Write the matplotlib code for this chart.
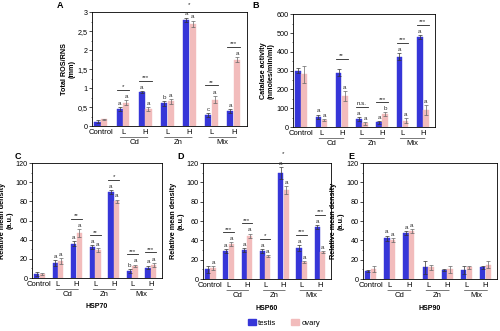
import matplotlib
matplotlib.use("Agg")
import matplotlib.pyplot as plt
from matplotlib.patches import Patch
from matplotlib.ticker import MultipleLocator, FuncFormatter
import numpy as np

plt.rcParams['font.family'] = ['Liberation Sans', 'DejaVu Sans']

groups = ["Control", "L", "H", "L", "H", "L", "H"]
families = [("Cd", 1.5), ("Zn", 3.5), ("Mix", 5.5)]

# Panel A: total ROS/RNS
a_testis = [0.12, 0.45, 0.90, 0.60, 2.80, 0.30, 0.40]
a_ovary = [0.18, 0.62, 0.45, 0.65, 2.70, 0.70, 1.75]
a_testis_err = [0.03, 0.05, 0.03, 0.06, 0.06, 0.05, 0.06]
a_ovary_err = [0.02, 0.07, 0.05, 0.06, 0.08, 0.10, 0.07]
a_letters_t = ["", "a", "a", "b", "a", "c", "a"]
a_letters_o = ["", "a", "a", "a", "a", "a", "a"]
a_sig = ["", "*", "***", "", "*", "**", "***"]

# Panel B: catalase activity
b_testis = [300, 55, 290, 45, 25, 375, 480]
b_ovary = [280, 40, 165, 20, 70, 35, 90]
b_testis_err = [15, 12, 20, 10, 8, 20, 10]
b_ovary_err = [45, 5, 25, 8, 10, 12, 25]
b_letters_t = ["", "a", "", "a", "a", "a", "a"]
b_letters_o = ["", "a", "a", "a", "b", "a", "a"]
b_sig = ["", "", "**", "n.s.", "***", "***", "***"]

# Panel C: HSP70
c_testis = [4, 16, 36, 32, 90, 7, 11]
c_ovary = [4, 18, 47, 29, 80, 13, 14]
c_testis_err = [2, 3, 3, 2, 2, 2, 2]
c_ovary_err = [1, 3, 4, 2, 2, 1, 2]
c_letters_t = ["", "a", "a", "a", "a", "b", "a"]
c_letters_o = ["", "a", "a", "a", "a", "a", "a"]
c_sig = ["", "", "**", "**", "*", "***", "***"]

# Panel D: HSP60
d_testis = [10, 29, 30, 29, 110, 32, 54]
d_ovary = [11, 36, 45, 24, 92, 18, 28]
d_testis_err = [4, 2, 2, 2, 6, 3, 2]
d_ovary_err = [2, 2, 2, 1, 4, 1, 1]
d_letters_t = ["", "a", "a", "a", "a", "a", "a"]
d_letters_o = ["a", "a", "a", "a", "a", "a", "a"]
d_sig = ["", "***", "***", "*", "*", "***", "***"]

# Panel E: HSP90
e_testis = [8, 42, 48, 12, 9, 9, 12]
e_ovary = [10, 40, 50, 12, 10, 12, 15]
e_testis_err = [1, 3, 2, 7, 1, 4, 2]
e_ovary_err = [3, 2, 2, 3, 4, 2, 4]
e_letters_t = ["", "a", "a", "", "", "", ""]
e_letters_o = ["", "a", "a", "", "", "", ""]
e_sig = ["", "", "", "", "", "", ""]

BLUE = "#3636d8"
PINK = "#f2bcbc"
W = 0.28
OFF = 0.15
FS = 5.5

fig = plt.figure(figsize=(5.0, 3.31), dpi=100)


def panel(rect, letter, testis, ovary, terr, oerr, lt, lo, sig, ylim, ystep,
          ylabel, fmt=None, sub=None, letter_pos=None):
    ax = fig.add_axes(rect)
    x = np.arange(len(groups))
    ax.bar(x - OFF, testis, W, color=BLUE, edgecolor=BLUE, linewidth=0.3,
           yerr=terr, error_kw=dict(elinewidth=0.5, capsize=1.2, capthick=0.5, ecolor="#333333"))
    ax.bar(x + OFF, ovary, W, color=PINK, edgecolor=PINK, linewidth=0.3,
           yerr=oerr, error_kw=dict(elinewidth=0.5, capsize=1.2, capthick=0.5, ecolor="#666666"))
    span = ylim[1] - ylim[0]
    for i in range(len(groups)):
        tt = testis[i] + terr[i]
        to = ovary[i] + oerr[i]
        if lt[i]:
            ax.text(i - OFF, tt + span * 0.01, lt[i], ha="center", va="bottom", fontsize=4.5, color="#333333")
        if lo[i]:
            ax.text(i + OFF, to + span * 0.01, lo[i], ha="center", va="bottom", fontsize=4.5, color="#333333")
        if sig[i]:
            top = max(tt, to) + span * (0.09 if (lt[i] or lo[i]) else 0.04)
            ax.plot([i - OFF - W / 2, i + OFF + W / 2], [top, top], color="#222222", lw=0.6)
            ax.text(i, top + span * 0.003, sig[i], ha="center", va="bottom", fontsize=4.5, color="#222222")
    ax.set_xlim(-0.4, 6.6)
    ax.set_ylim(*ylim)
    ax.yaxis.set_major_locator(MultipleLocator(ystep))
    ax.yaxis.set_minor_locator(MultipleLocator(ystep / 2))
    if fmt:
        ax.yaxis.set_major_formatter(FuncFormatter(fmt))
    ax.set_xticks(x)
    ax.set_xticklabels(groups, fontsize=FS)
    ax.tick_params(axis="x", length=0, pad=2)
    ax.tick_params(axis="y", which="major", labelsize=5.2, length=2, width=0.5, pad=1)
    ax.tick_params(axis="y", which="minor", length=1, width=0.4)
    for s in ax.spines.values():
        s.set_linewidth(0.6)
    ax.set_ylabel(ylabel, fontsize=5.2, fontweight="bold", labelpad=1.5, linespacing=1.05)
    for name, cx in families:
        ax.annotate("", xy=(cx - 0.75, -0.1), xytext=(cx + 0.75, -0.1),
                    xycoords=("data", "axes fraction"), textcoords=("data", "axes fraction"),
                    arrowprops=dict(arrowstyle="-", lw=0.5, color="#444444"))
        ax.text(cx, -0.11, name, transform=ax.get_xaxis_transform(), ha="center", va="top", fontsize=FS)
    if sub:
        ax.text(0.5, -0.22, sub, transform=ax.transAxes, ha="center", va="top",
                fontsize=5, fontweight="bold")
    fig.text(letter_pos[0], letter_pos[1], letter, fontsize=6.5, fontweight="bold", ha="left", va="center")
    return ax


comma = lambda v, p: ("%g" % v).replace(".", ",")

panel([0.184, 0.619, 0.31, 0.344], "A", a_testis, a_ovary, a_testis_err, a_ovary_err,
      a_letters_t, a_letters_o, a_sig, (0, 3), 0.5, "Total ROS/RNS\n(mm)", fmt=comma,
      letter_pos=(0.114, 0.983))
panel([0.586, 0.616, 0.284, 0.341], "B", b_testis, b_ovary, b_testis_err, b_ovary_err,
      b_letters_t, b_letters_o, b_sig, (0, 600), 100, "Catalase activity\n(nmoles/min/ml)",
      letter_pos=(0.505, 0.983))
panel([0.064, 0.160, 0.26, 0.347], "C", c_testis, c_ovary, c_testis_err, c_ovary_err,
      c_letters_t, c_letters_o, c_sig, (0, 120), 20, "Relative mean density\n(a.u.)",
      sub="HSP70", letter_pos=(0.03, 0.526))
panel([0.406, 0.157, 0.256, 0.35], "D", d_testis, d_ovary, d_testis_err, d_ovary_err,
      d_letters_t, d_letters_o, d_sig, (0, 120), 20, "Relative mean density\n(a.u.)",
      sub="HSP60", letter_pos=(0.354, 0.526))
panel([0.726, 0.157, 0.268, 0.35], "E", e_testis, e_ovary, e_testis_err, e_ovary_err,
      e_letters_t, e_letters_o, e_sig, (0, 120), 20, "Relative mean density\n(a.u.)",
      sub="HSP90", letter_pos=(0.696, 0.526))

handles = [Patch(facecolor=BLUE, edgecolor=BLUE, label="testis"),
           Patch(facecolor=PINK, edgecolor=PINK, label="ovary")]
fig.legend(handles=handles, loc="center", bbox_to_anchor=(0.568, 0.025), ncol=2,
           frameon=False, fontsize=5.5, handlelength=1.0, handleheight=0.8,
           handletextpad=0.3, columnspacing=2.0)

fig.savefig("out.png", dpi=100)
